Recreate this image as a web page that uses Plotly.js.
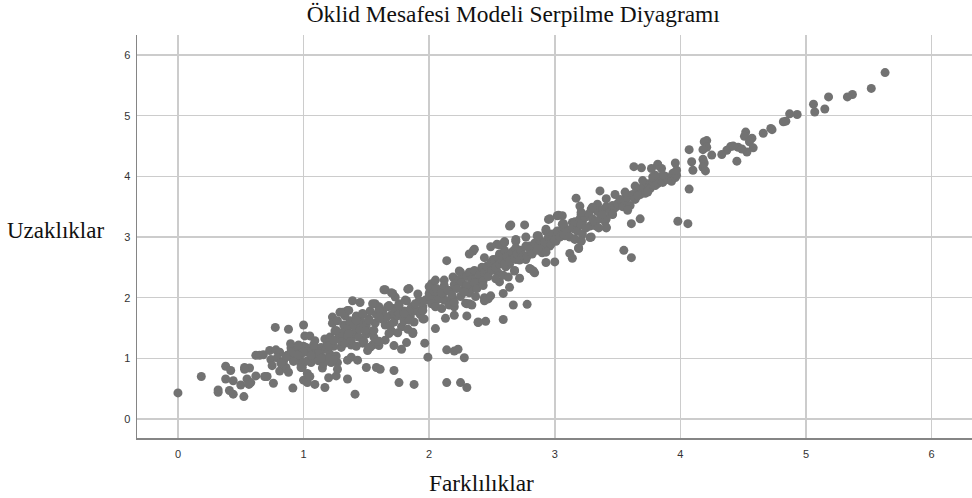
<!DOCTYPE html>
<html><head><meta charset="utf-8">
<script src="https://cdn.plot.ly/plotly-3.0.0.min.js"></script>
<style>html,body{margin:0;padding:0;background:#fff}</style></head>
<body><div id="c" style="width:972px;height:498px"></div>
<script>
// dissimilarity (x) / distance (y), by stretch of the cloud
const lowX=[0,.186,.32,.32,.38,.42,.38,.44,.41,.44,.50,.525,.53,.57,.53,.55,.58,.565,.62,.69,.71,.76,.775,.88,1.0,.915,.62,.65,.68,.73,.78,.81,.74,.75,.79,.81,.86,.88,.84,.87,.91,.897,.90,.93,.96,.98,.99,1.0,1.03,1.03,1.05,1.09,1.17,1.2,1.26,1.35,1.41];
const lowY=[.43,.70,.48,.44,.87,.80,.66,.63,.47,.41,.56,.37,.85,.84,.82,.66,.60,.57,.71,.70,.70,.59,1.51,1.48,1.55,.51,1.05,1.05,1.06,1.13,1.14,1.10,.98,.88,1.01,.79,.85,.77,.95,1.05,1.01,1.24,1.17,1.06,1.0,.9,.85,.64,.60,.75,.70,.57,.52,.68,.71,.66,.41];
const blobAX=[1.01,1.05,1.09,.94,.98,1.02,1.06,1.1,1.14,1.18,1.21,1.11,1.15,1.22,1.27,1.27,1.15,1.06,1,.98,1.03,1.07,1.26,1.17,1.21,1.08,1.12,1.16,1.2,1.04,1.0,.96,1.24,1.19,1.13,1.12,1.0,.95,1.08,1.14,.92,.9,.86,.82,1.24,1.2,1.06,1.3,1.33,1.38,1.41,1.47,1.53,1.65,1.55];
const blobAY=[1.37,1.37,1.29,1.13,1.07,1.18,1.13,1.15,1.18,1.15,1.07,1.04,1.02,.93,.93,.82,.84,.93,.93,.85,.96,1.02,1.04,1.32,1.35,1.08,.96,.92,1.0,1.1,1.2,1.22,1.2,1.25,1.1,1.08,1.1,1.05,1.22,1.0,.95,1.1,1.02,.92,.98,1.2,1.05,1.18,1.35,1.22,1.4,1.25,1.18,1.3,1.22];
const midX=[1.23,1.29,1.35,1.39,1.45,1.57,1.65,1.71,1.83,1.91,2.02,1.87,1.82,1.78,1.72,1.6,1.51,1.96,1.35,1.38,1.43,1.5,1.58,1.61,1.72,1.76,1.88,1.965,1.99,1.25,1.28,1.3,1.3,1.32,1.33,1.35,1.35,1.37,1.38,1.4,1.4,1.42,1.42,1.44,1.45,1.46,1.47,1.48,1.5,1.5,1.52,1.53,1.55,1.56,1.57,1.58,1.6,1.6,1.62,1.63,1.65,1.66,1.67,1.7,1.7,1.72,1.72,1.75,1.75,1.76,1.78,1.8,1.8,1.82,1.83,1.85,1.86,1.88,1.9,1.92,1.93,1.95,1.23,1.27,1.24,1.33,1.52,1.69];
const midY=[1.68,1.76,1.79,1.95,1.92,1.9,2.13,2.07,2.14,2.06,2.23,1.43,1.26,1.15,1.21,1.21,1.13,1.65,.97,1.02,.97,.85,.85,.82,.80,.60,.57,1.25,1.02,1.45,1.35,1.28,1.42,1.55,1.25,1.38,1.5,1.62,1.3,1.42,1.55,1.2,1.7,1.35,1.48,1.6,1.72,1.28,1.4,1.55,1.65,1.78,1.45,1.35,1.58,1.72,1.85,1.28,1.65,1.78,1.55,1.68,1.85,1.72,1.45,1.6,1.82,1.42,1.7,1.9,1.52,1.78,1.62,1.95,1.48,1.7,1.85,1.6,1.78,1.95,1.72,1.85,1.58,1.62,1.3,1.7,1.18,1.55];
const fillLeftX=[1.73,1.81,1.76,1.68,1.6,1.66,1.76,1.84,1.89,1.97,1.95,2.05,2.12,2.19,2.2,1.84,1.87,1.68,1.56,1.49,1.42,1.47,1.52,1.26,1.36,1.6,1.8,1.31,1.36,1.55,1.64,1.70,1.84];
const fillLeftY=[2.01,1.96,1.87,1.87,1.79,1.68,1.74,1.79,1.9,1.96,1.79,1.87,1.96,1.98,1.85,1.63,1.41,1.41,1.46,1.46,1.63,1.74,1.63,1.46,1.41,1.68,1.74,1.76,1.79,1.9,2.13,2.08,2.15];
const fillMidX=[2,2.05,2.12,2.19,2.25,2.34,2.42,2.53,2.58,2,2.05,2.11,2.16,2.27,2.34,2.41,2.45,2.53,2.61,2.32,2.29,2.44,2.24,2.54,2.6];
const fillMidY=[2.18,2.29,2.29,2.34,2.29,2.4,2.45,2.59,2.62,2.07,2.01,2.07,2.12,2.12,2.15,2.26,2.4,2.45,2.51,1.9,1.91,2.0,2.44,2.88,2.92];
const fillHighX=[2.64,2.95,3.02,3.2,3.34,3.29,3.21,3.14,3.06,2.93,2.86,2.69,2.6,2.35,2.44,2.51,2.67,2.69,2.77,2.82,2.89,2.96,2.9,3.01,3.08,3.16,3.21,3.28,3.19,2.81,2.84,2.68,2.55,2.64,2.56,2.43,2.32,2.25,3.22,3.28,3.41,3.4,3.33,3.46,3.54,3.57,3.51,3.16,3.09,2.98,2.8,2.61,2.4,2.48];
const fillHighY=[3.18,3.29,3.35,3.51,3.54,3.46,3.37,3.24,3.21,3.1,3.02,2.93,2.91,2.77,2.66,2.63,2.77,2.63,2.63,2.77,2.91,2.85,2.74,2.93,3.02,2.96,2.93,2.99,2.81,2.47,2.41,2.44,2.41,2.55,2.6,2.44,2.38,2.42,3.24,3.18,3.15,3.26,3.18,3.37,3.51,3.7,3.54,3.13,3.07,3.04,2.85,2.6,2.33,2.49];
const bandX=[2.0,2.02,2.04,2.05,2.06,2.08,2.1,2.1,2.12,2.14,2.15,2.16,2.18,2.2,2.2,2.22,2.24,2.25,2.26,2.28,2.3,2.3,2.32,2.32,2.34,2.36,2.36,2.38,2.4,2.42,2.43,2.44,2.46,2.47,2.49,2.5,2.52,2.53,2.55,2.56,2.56,2.58,2.6,2.6,2.62,2.64,2.66,2.68,2.69,2.7,2.72,2.73,2.75,2.77,2.78,2.8,2.82,2.84,2.86,2.87,2.88,2.9,2.92,2.93,2.95,2.97,2.98,3.0,3.02,3.04,3.06,3.07,3.08,3.1,3.12,3.14,3.16,3.18,3.2,3.21,3.22,3.24,3.25,3.27,3.3,3.32,3.34,3.36,3.38,3.41,3.41,3.44,3.46,3.48,3.5,3.52,3.54,3.56,3.58,3.6,3.62,3.64,3.66,3.68,3.7,3.72,3.74,3.76,3.78,3.8,3.82,3.82,3.84,3.86,3.88,3.9,3.93,3.94,3.96,3.97];
const bandY=[2.02,1.9,2.1,1.85,2.15,1.98,1.82,2.08,2.2,1.95,2.12,1.88,2.05,2.22,1.92,2.15,2.3,2.02,2.25,2.1,2.35,2.2,2.42,2.08,2.3,2.45,2.25,2.15,2.38,2.5,2.28,2.42,2.52,2.35,2.58,2.45,2.6,2.5,2.66,2.55,2.72,2.62,2.55,2.78,2.68,2.6,2.75,2.65,2.82,2.72,2.62,2.78,2.7,2.85,2.68,2.8,2.72,2.9,2.78,2.85,2.95,2.82,2.92,2.75,3.0,2.88,3.05,2.95,3.1,3.0,3.12,3.05,3.15,3.1,3.0,3.15,3.25,3.1,3.3,3.2,3.05,3.32,3.15,3.38,3.3,3.25,3.42,3.3,3.45,3.3,3.5,3.42,3.52,3.48,3.55,3.62,3.5,3.6,3.65,3.52,3.7,3.62,3.78,3.7,3.82,3.72,3.88,3.8,3.92,3.85,3.95,3.88,3.95,3.9,4.0,3.95,3.92,4.05,3.98,4.02];
const edgeX=[2.14,2.65,2.76,2.96,3.03,3.06,3.17,3.36,3.63,3.69,3.82,2.36,2.32,2.49,2.56,2.6,2.69,2.77,2.87,2.93,3.07,3.21,3.3,3.41,3.48,3.56,3.64,3.7,3.78,3.41,3.35,3.21,3.16,3.74,3.66,3.58,3.46,3.38,3.55,3.61,3.68,3.61,3.29,3.19,3.12,3.14,3.0,2.93,2.83,2.8,2.72,2.64,2.59,2.67,2.78,2.59,2.45,2.39,2.3,2.2,2.13,1.95,2.05,2.47,2.49,2.44,2.3,2.34,2.37,2.43,2.28,2.56,2.53,2.59,2.63,2.68,2.14,2.2,2.23,2.28,2.14,2.25,2.3,2.39];
const edgeY=[2.61,3.2,3.2,3.3,3.36,3.35,3.64,3.76,4.16,4.14,4.2,2.8,2.72,2.84,2.87,2.92,2.96,3.0,3.02,3.13,3.22,3.41,3.49,3.63,3.7,3.74,3.84,3.93,3.99,3.16,3.15,2.94,2.97,3.74,3.68,3.44,3.38,3.37,2.78,2.66,3.3,3.22,3.0,2.82,2.73,2.65,2.59,2.58,2.44,2.48,2.32,2.17,2.07,1.88,1.89,1.64,1.61,1.60,1.7,1.71,1.66,1.65,1.49,1.98,2.03,1.95,1.9,1.88,2.02,2.2,2.09,2.26,2.31,2.37,2.34,2.45,1.14,1.12,1.15,1.01,.60,.60,.52,1.59];
const topX=[5.63,5.52,5.37,5.33,5.18,5.15,5.06,5.07,4.93,4.87,4.84,4.82,4.73,4.72,4.66,4.52,4.51,4.57,4.55,4.58,4.53,4.45,4.46,4.4,4.37,4.33,4.25,4.21,4.19,4.21,4.18,4.18,4.19,4.18,4.2,4.07,4.09,4.1,4.07,3.98,4.06,3.96,3.97,3.82,3.85,3.86,3.8,3.77,4.42,4.49];
const topY=[5.71,5.45,5.35,5.31,5.31,5.11,5.19,5.06,5.02,5.03,4.91,4.9,4.77,4.79,4.71,4.73,4.66,4.63,4.57,4.47,4.4,4.25,4.48,4.49,4.43,4.36,4.35,4.59,4.57,4.48,4.44,4.28,4.22,4.15,4.09,4.44,4.24,4.1,3.79,3.26,3.22,4.22,4.1,4.18,4.13,4.02,4.02,4.13,4.5,4.45];
const allX=[...lowX,...blobAX,...midX,...fillLeftX,...fillMidX,...fillHighX,...bandX,...edgeX,...topX];
const allY=[...lowY,...blobAY,...midY,...fillLeftY,...fillMidY,...fillHighY,...bandY,...edgeY,...topY];
const tickVals=[0,1,2,3,4,5,6];
const serif='"Liberation Serif","Times New Roman",serif';
const sans='"Liberation Sans",Arial,sans-serif';
const axisStyle={tickvals:tickVals,showgrid:true,gridcolor:'#cccccc',gridwidth:1.5,zeroline:false,
  showline:true,linecolor:'#858585',linewidth:1.5,ticks:'',
  tickfont:{family:sans,size:11,color:'#333'}};
Plotly.newPlot('c',[{type:'scatter',mode:'markers',x:allX,y:allY,
  marker:{size:9,color:'#727272',line:{width:0}}}],{
  width:972,height:498,paper_bgcolor:'#fff',plot_bgcolor:'#fff',showlegend:false,
  margin:{l:137,r:0,t:35,b:60},
  title:{text:'Öklid Mesafesi Modeli Serpilme Diyagramı',font:{family:serif,size:23.4,color:'#111'},x:0.528,xanchor:'center',y:0.972,yanchor:'middle'},
  xaxis:Object.assign({range:[-0.326,6.322],ticklabelstandoff:5},axisStyle),
  yaxis:Object.assign({range:[-0.313,6.33],ticklabelstandoff:3},axisStyle),
  annotations:[
   {text:'Uzaklıklar',xref:'paper',yref:'paper',x:-0.1584,xanchor:'left',y:0.5145,yanchor:'middle',showarrow:false,font:{family:serif,size:23,color:'#111'}},
   {text:'Farklılıklar',xref:'paper',yref:'paper',x:0.412,xanchor:'center',y:-0.1115,yanchor:'middle',showarrow:false,font:{family:serif,size:23.3,color:'#111'}}
  ]
},{displayModeBar:false,staticPlot:true});
</script></body></html>
